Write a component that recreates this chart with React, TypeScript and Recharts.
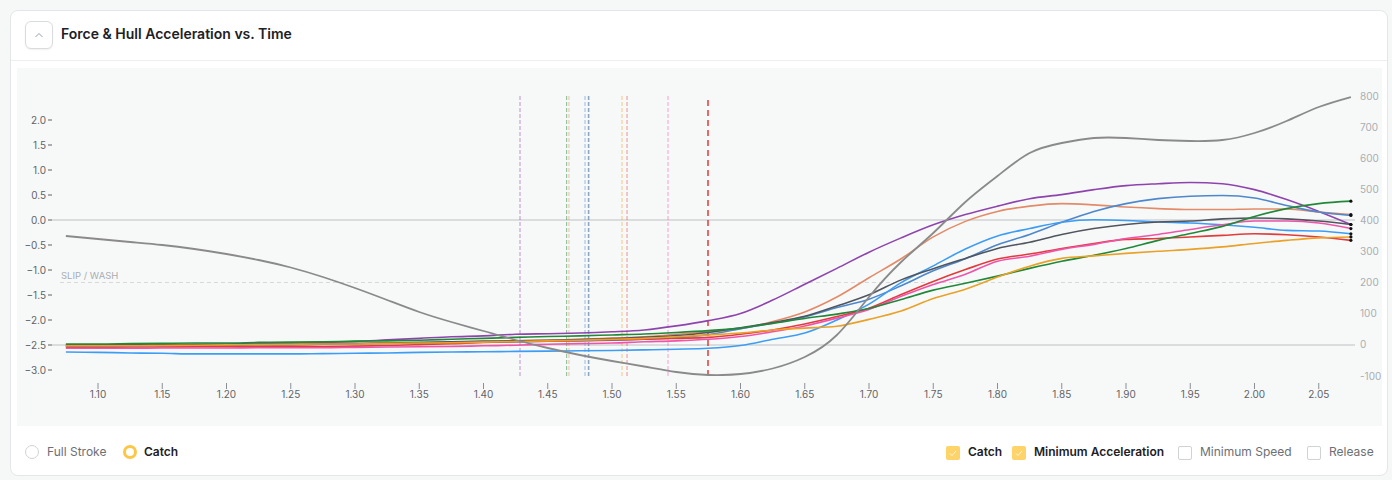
import React from "react";
import {
  LineChart,
  Line,
  XAxis,
  YAxis,
  ReferenceLine,
} from "recharts";

// stroke time (s)
const times = [
  1.075, 1.1, 1.125, 1.15, 1.175, 1.2, 1.225, 1.25, 1.275, 1.3, 1.325, 1.35,
  1.375, 1.4, 1.425, 1.45, 1.475, 1.5, 1.525, 1.55, 1.575, 1.6, 1.625, 1.65,
  1.675, 1.7, 1.725, 1.75, 1.775, 1.8, 1.825, 1.85, 1.875, 1.9, 1.925, 1.95,
  1.975, 2.0, 2.025, 2.05, 2.075,
];

// hull acceleration (left axis)
const hullAccel = [
  -0.32, -0.38, -0.44, -0.5, -0.58, -0.68, -0.8, -0.95, -1.14, -1.36, -1.6,
  -1.84, -2.04, -2.22, -2.4, -2.56, -2.7, -2.82, -2.93, -3.04, -3.1, -3.08,
  -2.97, -2.74, -2.3, -1.54, -0.84, -0.26, 0.36, 0.88, 1.34, 1.54, 1.64, 1.64,
  1.6, 1.58, 1.6, 1.74, 1.98, 2.26, 2.46,
];

// force per seat (right axis)
const forcePurple = [
  0, 0, 0, 0, 2, 3, 5, 6, 8, 11, 16, 21, 26, 29, 34, 36, 38, 42, 48, 61, 78,
  101, 144, 195, 246, 298, 344, 386, 419, 446, 470, 483, 499, 512, 518, 522,
  518, 499, 467, 429, 387,
];
const forceSalmon = [
  -6, -5, -5, -4, -3, -2, -1, 0, 2, 3, 5, 6, 8, 10, 13, 15, 18, 22, 26, 34, 42,
  52, 75, 106, 154, 216, 277, 347, 397, 429, 446, 454, 450, 443, 438, 435, 435,
  437, 437, 427, 419,
];
const forceSteel = [
  -3, -3, -3, -2, -1, -1, 0, 1, 2, 3, 5, 6, 7, 9, 10, 12, 13, 15, 18, 23, 33,
  52, 70, 90, 120, 147, 190, 238, 277, 322, 355, 394, 429, 454, 470, 478, 480,
  472, 448, 427, 416,
];
const forceBlue = [
  -23, -24, -26, -27, -29, -29, -29, -29, -28, -27, -26, -24, -23, -22, -21,
  -20, -19, -18, -16, -14, -11, -2, 18, 38, 80, 131, 200, 254, 308, 350, 374,
  394, 402, 400, 395, 392, 386, 378, 368, 366, 357,
];
const forceSlate = [
  -2, -2, -1, 0, 0, 1, 2, 3, 4, 5, 6, 8, 10, 12, 13, 15, 17, 20, 24, 30, 40, 55,
  72, 92, 125, 161, 209, 245, 278, 310, 330, 355, 374, 387, 395, 398, 405, 408,
  405, 398, 387,
];
const forceRed = [
  -8, -8, -7, -7, -6, -6, -6, -5, -5, -4, -2, 1, 4, 8, 10, 12, 14, 16, 18, 21,
  24, 34, 48, 67, 91, 118, 162, 204, 242, 276, 292, 310, 326, 339, 342, 347,
  352, 357, 354, 347, 336,
];
const forcePink = [
  -11, -11, -11, -10, -10, -10, -9, -9, -9, -8, -7, -6, -5, -3, -1, 2, 4, 6,
  10, 13, 18, 27, 42, 61, 86, 114, 156, 194, 227, 269, 285, 307, 323, 342, 355,
  371, 386, 398, 398, 392, 374,
];
const forceGreen = [
  3, 3, 4, 5, 6, 6, 8, 9, 10, 12, 13, 15, 18, 21, 24, 27, 29, 32, 35, 40, 46,
  54, 69, 85, 99, 117, 146, 176, 198, 221, 246, 269, 288, 310, 336, 358, 381,
  413, 438, 454, 462,
];
const forceOrange = [
  -3, -3, -3, -2, -1, 0, 1, 2, 3, 3, 5, 6, 7, 9, 11, 13, 15, 18, 21, 26, 32, 38,
  48, 54, 60, 82, 109, 149, 179, 218, 253, 278, 286, 294, 301, 307, 315, 326,
  336, 344, 347,
];

// catch time per seat, and time of minimum acceleration
const catchTimes = [1.4284, 1.4665, 1.479, 1.4815, 1.482, 1.5117, 1.5436, 1.4647, 1.5078];
const minAccelTime = 1.5747;

const xTicks = [
  1.1, 1.15, 1.2, 1.25, 1.3, 1.35, 1.4, 1.45, 1.5, 1.55, 1.6, 1.65, 1.7, 1.75,
  1.8, 1.85, 1.9, 1.95, 2.0, 2.05,
];
const accelTicks = [2, 1.5, 1, 0.5, 0, -0.5, -1, -1.5, -2, -2.5, -3];
const forceTicks = [800, 700, 600, 500, 400, 300, 200, 100, 0, -100];

const series = [
  { key: "purple", values: forcePurple, color: "#8e44ad" },
  { key: "salmon", values: forceSalmon, color: "#e38b68" },
  { key: "steel", values: forceSteel, color: "#4d87cc" },
  { key: "blue", values: forceBlue, color: "#3d9df5" },
  { key: "slate", values: forceSlate, color: "#50555e" },
  { key: "red", values: forceRed, color: "#e23b3b" },
  { key: "pink", values: forcePink, color: "#ee55aa" },
  { key: "green", values: forceGreen, color: "#218838" },
  { key: "orange", values: forceOrange, color: "#e9a127" },
];

const data = times.map((t, i) => {
  const row: Record<string, number> = { t, accel: hullAccel[i] };
  series.forEach((s) => (row[s.key] = s.values[i]));
  return row;
});

const font = "Inter, 'Noto Sans', sans-serif";

const XTick = (props: any) => {
  const { x, y, payload } = props;
  return (
    <g>
      <line x1={x} x2={x} y1={y + 7} y2={y + 13} stroke="#8a8f94" />
      <text x={x} y={y + 22} textAnchor="middle" fontSize={10} fill="#5f6368" fontFamily={font}>
        {payload.value.toFixed(2)}
      </text>
    </g>
  );
};

const AccelTick = (props: any) => {
  const { x, y, payload } = props;
  const v = payload.value;
  const label = (v < 0 ? "\u2212" : "") + Math.abs(v).toFixed(1);
  return (
    <g>
      <text x={x - 6} y={y + 3.5} textAnchor="end" fontSize={10} fill="#5f6368" fontFamily={font}>
        {label}
      </text>
      <line x1={x - 4} x2={x} y1={y} y2={y} stroke="#5f6368" />
    </g>
  );
};

const ForceTick = (props: any) => {
  const { x, y, payload } = props;
  return (
    <text x={x + 5} y={y + 3.5} textAnchor="start" fontSize={10} fill="#a9adb1" fontFamily={font}>
      {payload.value}
    </text>
  );
};

const endDot = (props: any) => {
  const { cx, cy, index } = props;
  if (index !== times.length - 1) return <g key={index} />;
  return <circle key={index} cx={cx} cy={cy} r={1.6} fill="#111" />;
};

const Radio = ({ left, on }: { left: number; on?: boolean }) => (
  <div
    style={{
      position: "absolute",
      left,
      top: 445,
      width: on ? 8 : 12,
      height: on ? 8 : 12,
      borderRadius: "50%",
      border: on ? "3px solid #fcc746" : "1px solid #cfd3d6",
      background: "#fff",
    }}
  />
);

const Check = ({ left, on }: { left: number; on?: boolean }) => (
  <div
    style={{
      position: "absolute",
      left,
      top: 446,
      width: on ? 14 : 12,
      height: on ? 14 : 12,
      borderRadius: 2,
      border: on ? "none" : "1px solid #cfd3d6",
      background: on ? "#fdd36a" : "#fff",
    }}
  >
    {on && (
      <svg width={14} height={14} style={{ display: "block" }}>
        <polyline points="4,7.5 6,9.5 10,5" fill="none" stroke="#fff" strokeOpacity={0.8} strokeWidth={1} />
      </svg>
    )}
  </div>
);

const Label = ({ left, text, bold }: { left: number; text: string; bold?: boolean }) => (
  <div
    style={{
      position: "absolute",
      left,
      top: 444,
      fontSize: 12,
      lineHeight: "16px",
      fontWeight: bold ? 600 : 400,
      color: bold ? "#1d2125" : "#6b7075",
      whiteSpace: "nowrap",
    }}
  >
    {text}
  </div>
);

export default function App() {
  return (
    <div
      style={{
        position: "absolute",
        left: 0,
        top: 0,
        width: 1392,
        height: 480,
        background: "#f6f7f7",
        fontFamily: font,
        overflow: "hidden",
      }}
    >
      {/* card */}
      <div
        style={{
          position: "absolute",
          left: 10,
          top: 10,
          width: 1376,
          height: 464,
          border: "1px solid #e4e7e9",
          borderRadius: 8,
          background: "#fff",
        }}
      />
      <div style={{ position: "absolute", left: 11, top: 60, width: 1376, height: 1, background: "#eceeef" }} />

      {/* header */}
      <div
        style={{
          position: "absolute",
          left: 25,
          top: 21,
          width: 26,
          height: 26,
          border: "1px solid #d9dcdf",
          borderRadius: 6,
          boxShadow: "0 1px 2px rgba(0,0,0,0.06)",
          background: "#fff",
        }}
      >
        <svg width={26} height={26} style={{ display: "block" }}>
          <polyline points="9.5,15 13,11.5 16.5,15" fill="none" stroke="#9aa0a6" strokeWidth={1} />
        </svg>
      </div>
      <div
        style={{
          position: "absolute",
          left: 61,
          top: 25,
          fontSize: 14,
          lineHeight: "18px",
          fontWeight: 600,
          color: "#1d2125",
          whiteSpace: "nowrap",
        }}
      >
        Force &amp; Hull Acceleration vs. Time
      </div>

      {/* chart panel */}
      <div style={{ position: "absolute", left: 17, top: 68, width: 1365, height: 358, background: "#f7f9f9" }}>
        <LineChart width={1365} height={358} data={data} margin={{ top: 28, right: 0, bottom: 20, left: 0 }}>
          <XAxis
            dataKey="t"
            type="number"
            domain={[1.0642, 2.0782]}
            ticks={xTicks}
            interval={0}
            allowDataOverflow
            axisLine={false}
            tickLine={false}
            tickSize={0}
            tickMargin={0}
            height={30}
            tick={<XTick />}
          />
          <YAxis
            yAxisId="acc"
            orientation="left"
            width={35}
            domain={[-3.12, 2.48]}
            ticks={accelTicks}
            interval={0}
            allowDataOverflow
            axisLine={false}
            tickLine={false}
            tickSize={0}
            tickMargin={0}
            tick={<AccelTick />}
          />
          <YAxis
            yAxisId="force"
            orientation="right"
            width={27}
            domain={[-100, 800]}
            ticks={forceTicks}
            interval={0}
            allowDataOverflow
            axisLine={false}
            tickLine={false}
            tickSize={0}
            tickMargin={0}
            tick={<ForceTick />}
          />

          <ReferenceLine yAxisId="acc" y={0} stroke="#dadcdd" strokeWidth={2} />
          <ReferenceLine yAxisId="force" y={0} stroke="#dadcdd" strokeWidth={2} />
          <ReferenceLine
            yAxisId="acc"
            segment={[
              { x: 1.0704, y: -1.25 },
              { x: 2.069, y: -1.25 },
            ]}
            stroke="#d6d8da"
            strokeDasharray="4 3"
            label={(p: any) => (
              <text x={p.viewBox.x + 1} y={p.viewBox.y - 4} fontSize={9.5} fill="#a9adb1" fontFamily={font}>
                SLIP / WASH
              </text>
            )}
          />

          {series.map((s, i) => (
            <ReferenceLine
              key={"c" + s.key}
              yAxisId="acc"
              x={catchTimes[i]}
              stroke={s.color}
              strokeOpacity={0.55}
              strokeDasharray="4 2"
            />
          ))}
          <ReferenceLine yAxisId="acc" x={minAccelTime} stroke="#e53935" strokeWidth={1.5} strokeDasharray="6 4" />

          {series.map((s) => (
            <Line
              key={s.key}
              yAxisId="force"
              dataKey={s.key}
              type="monotone"
              stroke={s.color}
              strokeWidth={1.6}
              dot={endDot}
              activeDot={false}
              isAnimationActive={false}
            />
          ))}
          <Line
            yAxisId="acc"
            dataKey="accel"
            type="natural"
            stroke="#8a8a8a"
            strokeWidth={1.8}
            dot={false}
            activeDot={false}
            isAnimationActive={false}
          />
        </LineChart>
      </div>

      {/* legend row */}
      <Radio left={25} />
      <Label left={47} text="Full Stroke" />
      <Radio left={123} on />
      <Label left={144} text="Catch" bold />

      <Check left={946} on />
      <Label left={968} text="Catch" bold />
      <Check left={1012} on />
      <Label left={1034} text="Minimum Acceleration" bold />
      <Check left={1178} />
      <Label left={1200} text="Minimum Speed" />
      <Check left={1307} />
      <Label left={1329} text="Release" />
    </div>
  );
}
